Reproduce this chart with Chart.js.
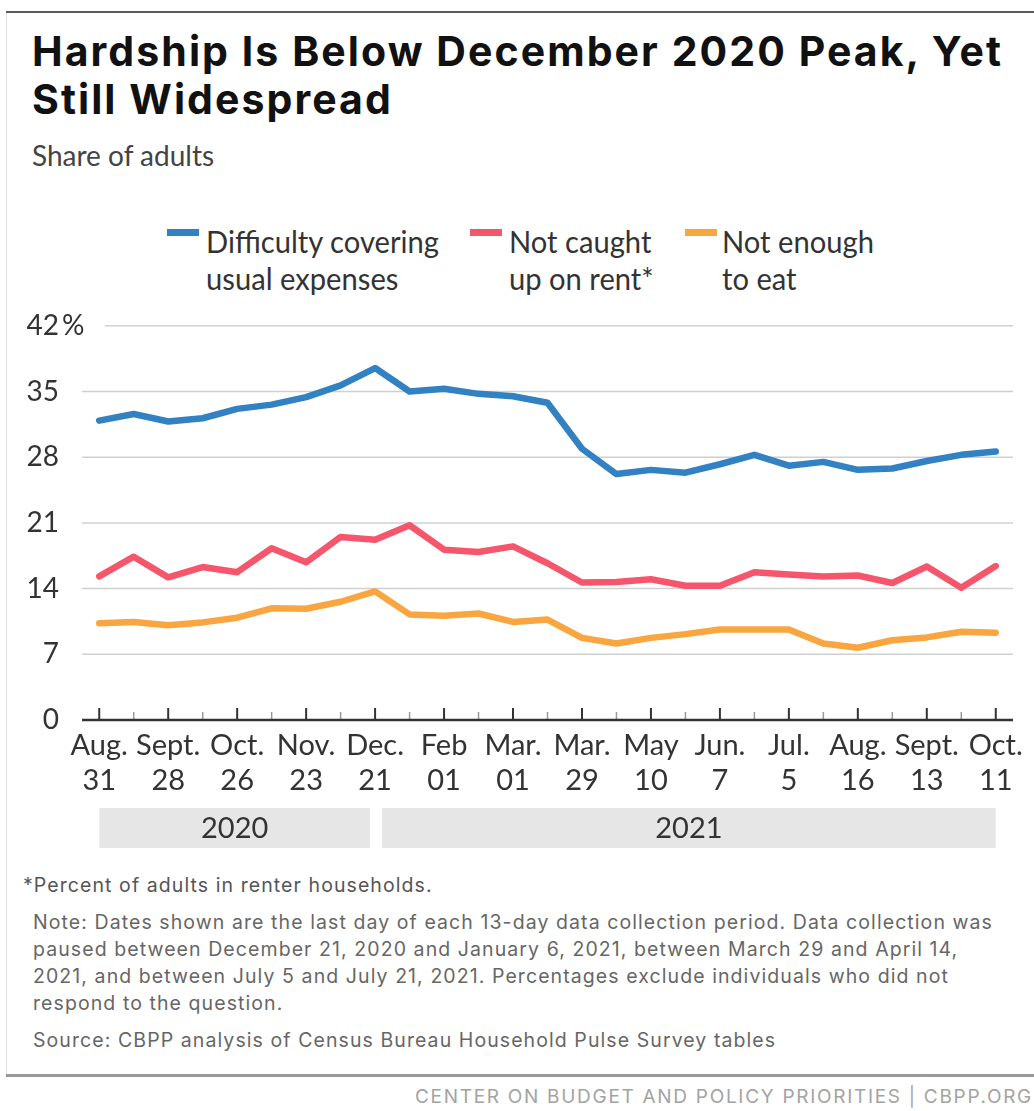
<!DOCTYPE html>
<html><head><meta charset="utf-8">
<script src="https://cdn.jsdelivr.net/npm/chart.js@4.4.1/dist/chart.umd.min.js"></script>
<style>
html,body{margin:0;padding:0;background:#fff;}
body{width:1034px;height:1111px;position:relative;overflow:hidden;font-family:Lato,sans-serif;}
.abs{position:absolute;white-space:nowrap;}
#topline{left:6px;top:11px;width:1028px;height:2px;background:#5a5a5a;}
#leftline{left:6px;top:13px;width:1px;height:1061px;background:#e0e0e0;}
#botline{left:6px;top:1074px;width:1028px;height:3px;background:#9a9a9a;}
.title{left:32px;font-family:Inter,sans-serif;font-weight:700;font-size:41px;line-height:48px;color:#111;}
#subtitle{left:32px;top:138px;font-size:28px;line-height:35px;color:#444;}
.dash{position:absolute;width:32px;height:7px;top:229px;}
.legt{position:absolute;top:223px;font-size:31px;line-height:37px;color:#333;white-space:nowrap;transform-origin:0 0;}
.note{font-family:Inter,sans-serif;font-size:19.5px;line-height:27px;color:#666;}
#foot{font-family:Inter,sans-serif;font-size:19px;line-height:24px;color:#a3a3a3;left:415px;top:1085px;}
#wrap{position:absolute;left:0;top:294px;width:1034px;height:566px;}
</style></head>
<body>
<div id="topline" class="abs"></div>
<div id="leftline" class="abs"></div>
<div id="botline" class="abs"></div>
<span id="t1" class="abs title" style="top:27px;">Hardship Is Below December 2020 Peak, Yet</span>
<span id="t2" class="abs title" style="top:75px;">Still Widespread</span>
<span id="subtitle" class="abs">Share of adults</span>
<div id="legend"></div>
<div id="wrap"><canvas id="c" width="1034" height="566"></canvas></div>
<span id="n0" class="abs note" style="left:23px;top:872px;color:#555;">*Percent of adults in renter households.</span>
<span id="n1" class="abs note" style="left:33px;top:909px;">Note: Dates shown are the last day of each 13-day data collection period. Data collection was</span>
<span id="n2" class="abs note" style="left:33px;top:936px;">paused between December 21, 2020 and January 6, 2021, between March 29 and April 14,</span>
<span id="n3" class="abs note" style="left:33px;top:963px;">2021, and between July 5 and July 21, 2021. Percentages exclude individuals who did not</span>
<span id="n4" class="abs note" style="left:33px;top:990px;">respond to the question.</span>
<span id="n5" class="abs note" style="left:33px;top:1027px;">Source: CBPP analysis of Census Bureau Household Pulse Survey tables</span>
<span id="foot" class="abs">CENTER ON BUDGET AND POLICY PRIORITIES | CBPP.ORG</span>
<script>
// ---- data ----
const periods = ['Aug. 31, 2020','Sept. 14, 2020','Sept. 28, 2020','Oct. 12, 2020','Oct. 26, 2020','Nov. 9, 2020','Nov. 23, 2020','Dec. 7, 2020','Dec. 21, 2020','Jan. 18, 2021','Feb. 1, 2021','Feb. 15, 2021','Mar. 1, 2021','Mar. 15, 2021','Mar. 29, 2021','Apr. 26, 2021','May 10, 2021','May 24, 2021','Jun. 7, 2021','Jun. 21, 2021','Jul. 5, 2021','Aug. 2, 2021','Aug. 16, 2021','Aug. 30, 2021','Sept. 13, 2021','Sept. 27, 2021','Oct. 11, 2021'];
const xTickLabels = [['Aug.','31'],['Sept.','28'],['Oct.','26'],['Nov.','23'],['Dec.','21'],['Feb','01'],['Mar.','01'],['Mar.','29'],['May','10'],['Jun.','7'],['Jul.','5'],['Aug.','16'],['Sept.','13'],['Oct.','11']];
const expenses = [31.9,32.6,31.8,32.15,33.15,33.6,34.4,35.65,37.5,35.0,35.3,34.75,34.5,33.8,28.9,26.2,26.65,26.35,27.25,28.25,27.1,27.5,26.65,26.8,27.6,28.25,28.6];
const rent = [15.3,17.4,15.2,16.3,15.75,18.3,16.8,19.5,19.2,20.75,18.15,17.9,18.5,16.7,14.65,14.7,15.0,14.3,14.3,15.75,15.5,15.3,15.4,14.6,16.35,14.1,16.4];
const food = [10.3,10.45,10.1,10.4,10.9,11.9,11.85,12.6,13.7,11.25,11.1,11.35,10.45,10.7,8.75,8.15,8.75,9.15,9.65,9.65,9.65,8.15,7.7,8.5,8.8,9.4,9.3];
const yTicks = [0,7,14,21,28,35,42];
const seriesNames = [['Difficulty covering','usual expenses'],['Not caught','up on rent*'],['Not enough','to eat']];
const seriesColors = ['#3181c3','#f5566c','#f9a640'];
const years = [{label:'2020', from:0, to:8}, {label:'2021', from:9, to:26}];

// ---- legend (HTML) ----
const legPos = [[167,206],[470,509],[685,722]];
const leg = document.getElementById('legend');
const legEls = [];
seriesNames.forEach((n,i)=>{
  const d=document.createElement('div'); d.className='dash'; d.style.left=legPos[i][0]+'px'; d.style.background=seriesColors[i]; leg.appendChild(d);
  const t=document.createElement('div'); t.className='legt'; t.style.left=legPos[i][1]+'px'; t.innerHTML=n.join('<br>'); leg.appendChild(t);
  legEls.push(t);
});
const sx = 233 / legEls[0].getBoundingClientRect().width;
legEls.forEach(t=>t.style.transform='scaleX('+sx+')');

// ---- text fitting ----
function fitSpacing(el, target){
  el.style.letterSpacing='0px';
  const w=el.getBoundingClientRect().width;
  return (target-w)/el.textContent.length;
}
const ts = fitSpacing(document.getElementById('t1'), 971);
['t1','t2'].forEach(id=>document.getElementById(id).style.letterSpacing=ts+'px');
const ns = fitSpacing(document.getElementById('n1'), 960);
['n0','n1','n2','n3','n4','n5'].forEach(id=>document.getElementById(id).style.letterSpacing=ns+'px');
const fs = fitSpacing(document.getElementById('foot'), 618);
document.getElementById('foot').style.letterSpacing=fs+'px';

// ---- chart ----
const deco = {
  id:'deco',
  beforeDatasetsDraw(chart){
    const {ctx, chartArea:a, scales:{y}} = chart;
    ctx.save();
    ctx.strokeStyle='#d0d0d0'; ctx.lineWidth=1.5;
    yTicks.forEach(v=>{
      if(v===0) return;
      const py=y.getPixelForValue(v);
      ctx.beginPath(); ctx.moveTo(v===42? a.left+23 : a.left, py); ctx.lineTo(a.right, py); ctx.stroke();
    });
    ctx.fillStyle='#333'; ctx.font='28px Lato'; ctx.textAlign='left'; ctx.textBaseline='middle';
    ctx.fillText('%', a.left-20, y.getPixelForValue(42));
    ctx.restore();
  },
  afterDatasetsDraw(chart){
    const {ctx, chartArea:a, scales:{x,y}} = chart;
    ctx.save();
    const by=y.getPixelForValue(0);
    periods.forEach((p,i)=>{
      const px=x.getPixelForValue(i);
      ctx.beginPath();
      if(i%2===0){ctx.strokeStyle='#333'; ctx.lineWidth=2; ctx.moveTo(px,by); ctx.lineTo(px,by-12);}
      else {ctx.strokeStyle='#9a9a9a'; ctx.lineWidth=1.5; ctx.moveTo(px,by); ctx.lineTo(px,by-8);}
      ctx.stroke();
    });
    ctx.strokeStyle='#333'; ctx.lineWidth=2.5;
    ctx.beginPath(); ctx.moveTo(a.left,by); ctx.lineTo(a.right,by); ctx.stroke();
    const top=by+88, h=40;
    years.forEach((yr,k)=>{
      const x0 = k===0 ? x.getPixelForValue(yr.from) : x.getPixelForValue(yr.from-1)+7;
      const x1 = k===0 ? x.getPixelForValue(yr.to)-5 : x.getPixelForValue(yr.to);
      ctx.fillStyle='#e6e6e7'; ctx.fillRect(x0, top, x1-x0, h);
      ctx.fillStyle='#333'; ctx.font='29px Lato'; ctx.textAlign='center'; ctx.textBaseline='middle';
      ctx.fillText(yr.label, (x0+x1)/2, top+h/2+1);
    });
    ctx.restore();
  }
};

new Chart(document.getElementById('c'), {
  type:'line',
  data:{
    labels: periods,
    datasets:[expenses, rent, food].map((d,i)=>({
      label: seriesNames[i].join(' '), data:d, borderColor:seriesColors[i], backgroundColor:seriesColors[i],
      borderWidth:6.5, pointRadius:0, tension:0, borderJoinStyle:'round', borderCapStyle:'round', fill:false
    }))
  },
  options:{
    responsive:false, animation:false, devicePixelRatio:1,
    layout:{padding:{left:0,right:21,top:21,bottom:0}},
    plugins:{legend:{display:false}, tooltip:{enabled:false}},
    scales:{
      x:{type:'category', offset:true, grid:{display:false}, border:{display:false},
         afterFit(s){s.height=140;},
         ticks:{autoSkip:false, maxRotation:0, minRotation:0, padding:0, color:'#333',
                font:{family:'Lato', size:29, lineHeight:1.22},
                callback:(v,i)=> i%2===0 ? xTickLabels[i/2] : ''}},
      y:{min:0, max:42, grid:{display:false}, border:{display:false},
         afterFit(s){s.width=82;},
         afterBuildTicks(s){ s.ticks = yTicks.map(v=>({value:v})); },
         ticks:{padding:15, color:'#333', font:{family:'Lato', size:28}, callback:v=>String(v)}}
    }
  },
  plugins:[deco]
});
</script>
</body></html>
